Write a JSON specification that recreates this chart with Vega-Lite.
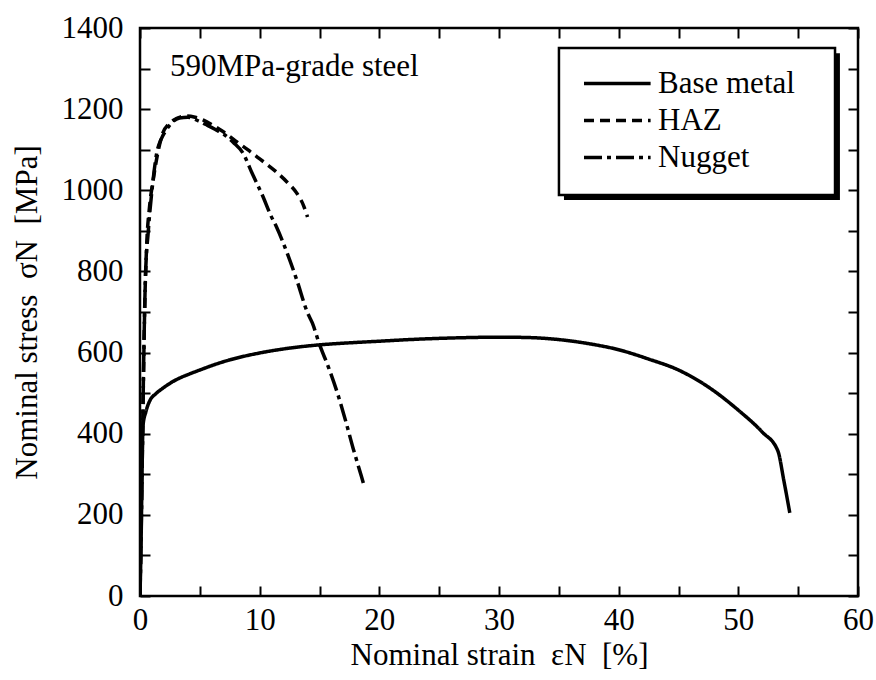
{
  "$schema": "https://vega.github.io/schema/vega-lite/v6.json",
  "width": 718,
  "height": 568,
  "autosize": {"type": "none"},
  "padding": {"left": 140, "top": 28, "right": 18, "bottom": 84},
  "background": "white",
  "config": {
    "view": {"stroke": "black", "strokeWidth": 2.5},
    "font": "Liberation Serif",
    "axis": {
      "domain": false,
      "grid": false,
      "ticks": true,
      "tickColor": "black",
      "tickWidth": 2,
      "tickSize": -10,
      "labelFont": "Liberation Serif",
      "labelFontSize": 31,
      "labelColor": "black",
      "titleFont": "Liberation Serif",
      "titleFontSize": 31,
      "titleFontWeight": "normal",
      "titleColor": "black"
    }
  },
  "datasets": {
    "curves": [
      {"series": "Base metal", "x": 0, "y": 0},
      {"series": "Base metal", "x": 0.1, "y": 150},
      {"series": "Base metal", "x": 0.18, "y": 320},
      {"series": "Base metal", "x": 0.25, "y": 420},
      {"series": "Base metal", "x": 0.5, "y": 455},
      {"series": "Base metal", "x": 0.85, "y": 483},
      {"series": "Base metal", "x": 1.3, "y": 498},
      {"series": "Base metal", "x": 1.9, "y": 512},
      {"series": "Base metal", "x": 2.6, "y": 526},
      {"series": "Base metal", "x": 3.3, "y": 537},
      {"series": "Base metal", "x": 4.2, "y": 548},
      {"series": "Base metal", "x": 5, "y": 557},
      {"series": "Base metal", "x": 6.2, "y": 570},
      {"series": "Base metal", "x": 7.5, "y": 582},
      {"series": "Base metal", "x": 10, "y": 599},
      {"series": "Base metal", "x": 12.5, "y": 611},
      {"series": "Base metal", "x": 15, "y": 619},
      {"series": "Base metal", "x": 17.5, "y": 624},
      {"series": "Base metal", "x": 20, "y": 628},
      {"series": "Base metal", "x": 22.5, "y": 632},
      {"series": "Base metal", "x": 25, "y": 635},
      {"series": "Base metal", "x": 27.5, "y": 637},
      {"series": "Base metal", "x": 30, "y": 638},
      {"series": "Base metal", "x": 32.5, "y": 637},
      {"series": "Base metal", "x": 35, "y": 632},
      {"series": "Base metal", "x": 37.5, "y": 622},
      {"series": "Base metal", "x": 40, "y": 607},
      {"series": "Base metal", "x": 42.5, "y": 584},
      {"series": "Base metal", "x": 45, "y": 557},
      {"series": "Base metal", "x": 47.5, "y": 515},
      {"series": "Base metal", "x": 50, "y": 458},
      {"series": "Base metal", "x": 52, "y": 404},
      {"series": "Base metal", "x": 53.3, "y": 358},
      {"series": "Base metal", "x": 53.8, "y": 285},
      {"series": "Base metal", "x": 54.3, "y": 205},
      {"series": "HAZ", "x": 0, "y": 0},
      {"series": "HAZ", "x": 0.1, "y": 200},
      {"series": "HAZ", "x": 0.2, "y": 380},
      {"series": "HAZ", "x": 0.3, "y": 560},
      {"series": "HAZ", "x": 0.4, "y": 720},
      {"series": "HAZ", "x": 0.55, "y": 860},
      {"series": "HAZ", "x": 0.8, "y": 960},
      {"series": "HAZ", "x": 1.1, "y": 1025},
      {"series": "HAZ", "x": 1.5, "y": 1094},
      {"series": "HAZ", "x": 1.9, "y": 1141},
      {"series": "HAZ", "x": 2.4, "y": 1163},
      {"series": "HAZ", "x": 2.8, "y": 1173},
      {"series": "HAZ", "x": 3.4, "y": 1181},
      {"series": "HAZ", "x": 3.9, "y": 1183},
      {"series": "HAZ", "x": 4.6, "y": 1180},
      {"series": "HAZ", "x": 5.3, "y": 1173},
      {"series": "HAZ", "x": 6, "y": 1162},
      {"series": "HAZ", "x": 6.7, "y": 1149},
      {"series": "HAZ", "x": 7.4, "y": 1135},
      {"series": "HAZ", "x": 8.1, "y": 1119},
      {"series": "HAZ", "x": 9, "y": 1100},
      {"series": "HAZ", "x": 9.8, "y": 1082},
      {"series": "HAZ", "x": 10.6, "y": 1064},
      {"series": "HAZ", "x": 11.4, "y": 1045},
      {"series": "HAZ", "x": 12.3, "y": 1020},
      {"series": "HAZ", "x": 13.1, "y": 993},
      {"series": "HAZ", "x": 13.7, "y": 960},
      {"series": "HAZ", "x": 14, "y": 934},
      {"series": "Nugget", "x": 0, "y": 0},
      {"series": "Nugget", "x": 0.12, "y": 200},
      {"series": "Nugget", "x": 0.22, "y": 400},
      {"series": "Nugget", "x": 0.32, "y": 600},
      {"series": "Nugget", "x": 0.45, "y": 780},
      {"series": "Nugget", "x": 0.7, "y": 902},
      {"series": "Nugget", "x": 1.0, "y": 1000},
      {"series": "Nugget", "x": 1.4, "y": 1092},
      {"series": "Nugget", "x": 1.8, "y": 1128},
      {"series": "Nugget", "x": 2.2, "y": 1149},
      {"series": "Nugget", "x": 2.7, "y": 1168},
      {"series": "Nugget", "x": 3.3, "y": 1178},
      {"series": "Nugget", "x": 4, "y": 1180},
      {"series": "Nugget", "x": 4.8, "y": 1172},
      {"series": "Nugget", "x": 5.5, "y": 1162},
      {"series": "Nugget", "x": 6.3, "y": 1150},
      {"series": "Nugget", "x": 7, "y": 1138},
      {"series": "Nugget", "x": 7.8, "y": 1118},
      {"series": "Nugget", "x": 8.6, "y": 1092},
      {"series": "Nugget", "x": 9.4, "y": 1040},
      {"series": "Nugget", "x": 10.3, "y": 983},
      {"series": "Nugget", "x": 10.9, "y": 940},
      {"series": "Nugget", "x": 11.4, "y": 910},
      {"series": "Nugget", "x": 12.3, "y": 845},
      {"series": "Nugget", "x": 13.1, "y": 779},
      {"series": "Nugget", "x": 14, "y": 698},
      {"series": "Nugget", "x": 14.4, "y": 673},
      {"series": "Nugget", "x": 15, "y": 620},
      {"series": "Nugget", "x": 15.8, "y": 560},
      {"series": "Nugget", "x": 16.5, "y": 500},
      {"series": "Nugget", "x": 17.2, "y": 430},
      {"series": "Nugget", "x": 17.8, "y": 365},
      {"series": "Nugget", "x": 18.3, "y": 315},
      {"series": "Nugget", "x": 18.7, "y": 275}
    ]
  },
  "layer": [
    {
      "data": {"values": [{}]},
      "mark": {"type": "rect", "color": "black"},
      "encoding": {
        "x": {"datum": 35.43, "type": "quantitative", "scale": {"domain": [0, 60], "nice": false, "zero": false}, "axis": null},
        "x2": {"datum": 58.49},
        "y": {"datum": 1338, "type": "quantitative", "scale": {"domain": [0, 1400], "nice": false, "zero": false}, "axis": null},
        "y2": {"datum": 976}
      }
    },
    {
      "data": {"values": [{}]},
      "mark": {"type": "rect", "fill": "white", "stroke": "black", "strokeWidth": 2.5},
      "encoding": {
        "x": {"datum": 35.01, "type": "quantitative", "scale": {"domain": [0, 60], "nice": false, "zero": false}, "axis": null},
        "x2": {"datum": 58.08},
        "y": {"datum": 1350.7, "type": "quantitative", "scale": {"domain": [0, 1400], "nice": false, "zero": false}, "axis": null},
        "y2": {"datum": 988.4}
      }
    },
    {
      "data": {"name": "curves"},
      "mark": {"type": "line", "color": "black", "strokeWidth": 3.5, "strokeCap": "butt", "interpolate": "monotone", "clip": true},
      "encoding": {
        "x": {
          "field": "x", "type": "quantitative",
          "scale": {"domain": [0, 60], "nice": false, "zero": false},
          "axis": {
            "orient": "bottom",
            "values": [0, 5, 10, 15, 20, 25, 30, 35, 40, 45, 50, 55, 60],
            "labelExpr": "datum.value % 10 === 0 ? datum.label : ''",
            "labelPadding": 19,
            "labelFlush": false,
            "title": "Nominal strain\u00a0\u00a0εN\u00a0\u00a0[%]",
            "titlePadding": 5
          }
        },
        "y": {
          "field": "y", "type": "quantitative",
          "scale": {"domain": [0, 1400], "nice": false, "zero": false},
          "axis": {
            "orient": "left",
            "values": [0, 100, 200, 300, 400, 500, 600, 700, 800, 900, 1000, 1100, 1200, 1300, 1400],
            "labelExpr": "datum.value % 200 === 0 ? datum.label : ''",
            "labelPadding": 27,
            "labelFlush": false,
            "format": "d",
            "title": "Nominal stress\u00a0\u00a0σN\u00a0\u00a0[MPa]",
            "titlePadding": 18
          }
        },
        "strokeDash": {
          "field": "series", "type": "nominal",
          "scale": {"domain": ["Base metal", "HAZ", "Nugget"], "range": [[1, 0], [10, 6], [18, 5, 4, 5]]},
          "legend": {
            "orient": "none",
            "legendX": 419,
            "legendY": 18,
            "title": null,
            "symbolType": "M-1,0H2.6",
            "symbolSize": 1369,
            "symbolOffset": 6,
            "symbolStrokeWidth": 3.5,
            "symbolStrokeColor": "black",
            "symbolFillColor": "transparent",
            "labelFont": "Liberation Serif",
            "labelFontSize": 31,
            "labelColor": "black",
            "labelOffset": 35,
            "labelLimit": 400,
            "padding": 17,
            "rowPadding": 1
          }
        }
      }
    },
    {
      "data": {"values": [{}]},
      "mark": {"type": "text", "align": "left", "baseline": "alphabetic", "font": "Liberation Serif", "fontSize": 31, "color": "black"},
      "encoding": {
        "x": {
          "datum": 2.5, "type": "quantitative",
          "scale": {"domain": [0, 60], "nice": false, "zero": false},
          "axis": {
            "orient": "top",
            "values": [0, 5, 10, 15, 20, 25, 30, 35, 40, 45, 50, 55, 60],
            "labels": false,
            "title": null
          }
        },
        "y": {
          "datum": 1282, "type": "quantitative",
          "scale": {"domain": [0, 1400], "nice": false, "zero": false},
          "axis": {
            "orient": "right",
            "values": [0, 100, 200, 300, 400, 500, 600, 700, 800, 900, 1000, 1100, 1200, 1300, 1400],
            "labels": false,
            "title": null
          }
        },
        "text": {"value": "590MPa-grade steel"}
      }
    }
  ],
  "resolve": {"axis": {"x": "independent", "y": "independent"}}
}
